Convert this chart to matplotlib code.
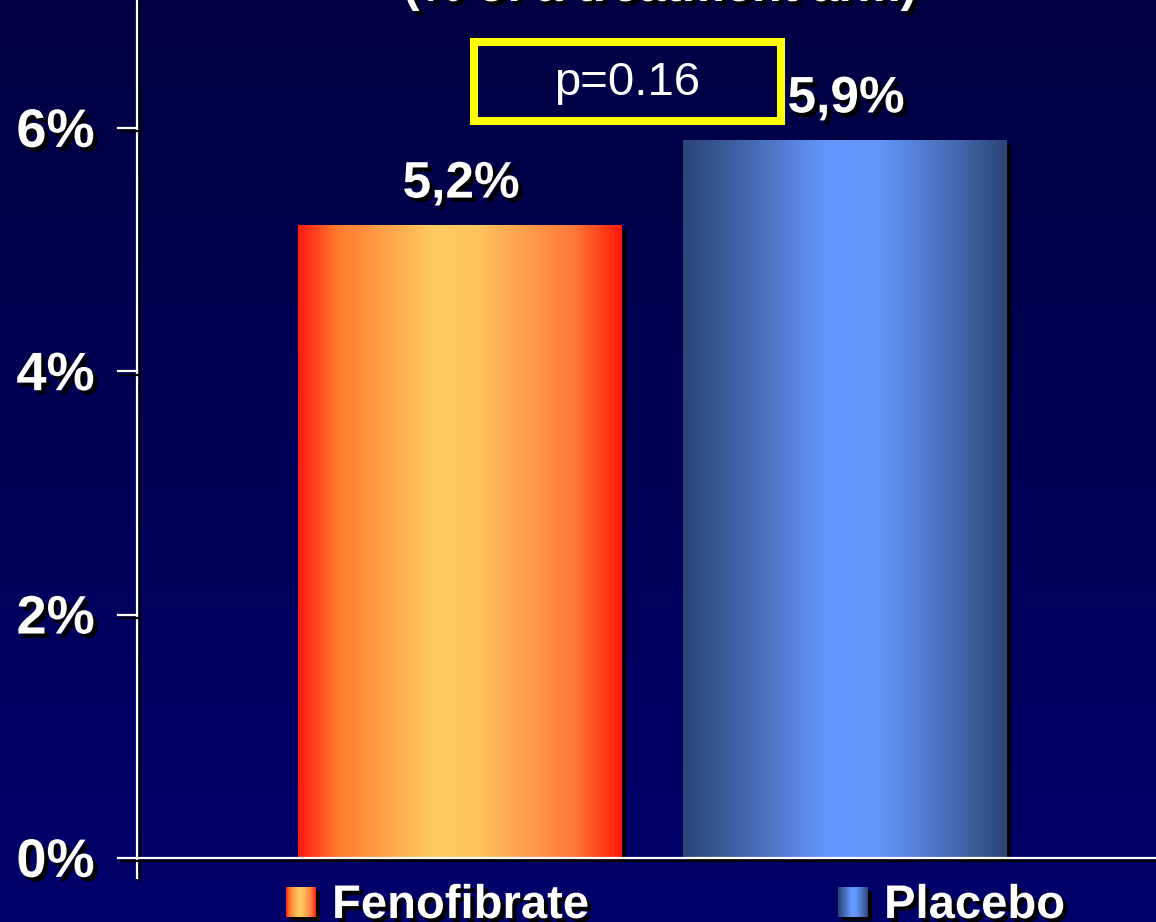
import numpy as np
import matplotlib
matplotlib.use("Agg")
import matplotlib.pyplot as plt
from matplotlib import patheffects as pe
from matplotlib.colors import LinearSegmentedColormap
from matplotlib.patches import Rectangle

plt.rcParams['font.family'] = ['Liberation Sans', 'DejaVu Sans']

# Data
categories = ["Fenofibrate", "Placebo"]
values = [5.2, 5.9]
value_labels = ["5,2%", "5,9%"]
ytick_values = [0, 2, 4, 6]
ytick_labels = ["0%", "2%", "4%", "6%"]
p_text = "p=0.16"
subtitle = "(% of a treatment arm)"

W, H = 1156, 922
DPI = 100
fig = plt.figure(figsize=(W / DPI, H / DPI), dpi=DPI)

# Navy background with a slight vertical gradient
bg = fig.add_axes([0, 0, 1, 1], zorder=-10)
bg_cmap = LinearSegmentedColormap.from_list("bg", ["#00006c", "#000042"])
bg.imshow(np.linspace(0, 1, 256).reshape(-1, 1), cmap=bg_cmap, aspect='auto',
          extent=(0, 1, 0, 1), origin='lower')
bg.set_axis_off()

# Bar gradients (horizontal): edges dark, bright near the middle
feno_cmap = LinearSegmentedColormap.from_list(
    "feno", [(0.0, "#ff1a10"), (0.12, "#ff7a30"), (0.42, "#ffca62"),
             (0.55, "#ffc45e"), (0.85, "#ff7a3a"), (1.0, "#ff1a08")])
plac_cmap = LinearSegmentedColormap.from_list(
    "plac", [(0.0, "#2c4474"), (0.2, "#4468b0"), (0.45, "#6699ff"),
             (0.6, "#6598fc"), (0.85, "#4468b0"), (1.0, "#2c4474")])
cmaps = [feno_cmap, plac_cmap]

ax_left = 137 / W
ax_bottom = (H - 878) / H
ax = fig.add_axes([ax_left, ax_bottom, 1 - ax_left, 1 - ax_bottom])
ax.patch.set_alpha(0)
px_per_unit = 243.33 / 2
ylim = (-20 / px_per_unit, 858 / px_per_unit)
xlim = (-0.838, 1.809)
for s in ax.spines.values():
    s.set_visible(False)
ax.set_xticks([])
ax.set_yticks([])

x = np.arange(len(categories))
width = 0.84
shadow = [pe.SimplePatchShadow(offset=(3.2, -3.2), shadow_rgbFace='black', alpha=1.0), pe.Normal()]
text_shadow = [pe.withSimplePatchShadow(offset=(3, -3), shadow_rgbFace='black', alpha=1.0)]
line_shadow = [pe.SimpleLineShadow(offset=(2.5, -2.5), shadow_color='black', alpha=1.0), pe.Normal()]

grad = np.linspace(0, 1, 256).reshape(1, -1)
bars = ax.bar(x, values, width=width, color='#000000', zorder=2)
for bar, cmap, lab in zip(bars, cmaps, value_labels):
    bar.set_path_effects(shadow)
    x0, w, h = bar.get_x(), bar.get_width(), bar.get_height()
    im = ax.imshow(grad, cmap=cmap, aspect='auto', extent=(x0, x0 + w, 0, h),
                   zorder=3, interpolation='bilinear')
    im.set_clip_path(bar)
    ax.annotate(lab, (x0 + w / 2, h), xytext=(1, 20), textcoords='offset points',
                ha='center', va='baseline', fontsize=37, fontweight='bold',
                color='white', path_effects=text_shadow, zorder=5)
ax.set_xlim(*xlim)
ax.set_ylim(*ylim)

# Axis lines and ticks
ytr = ax.get_yaxis_transform()
tick_len = 19 / (W - 137)
ax.plot([0, 0], [0, 1], transform=ax.transAxes, color='white', lw=1.6,
        clip_on=False, path_effects=line_shadow, zorder=4)
ax.plot([-tick_len, 1], [0, 0], transform=ytr, color='white', lw=1.6,
        clip_on=False, path_effects=line_shadow, zorder=4)
for v, lab in zip(ytick_values, ytick_labels):
    if v != 0:
        ax.plot([-tick_len, 0], [v, v], transform=ytr, color='white', lw=1.6,
                clip_on=False, path_effects=line_shadow, zorder=4)
    ax.annotate(lab, (0, v), xycoords=ytr, xytext=(-30.5, -3.5),
                textcoords='offset points', ha='right', va='center',
                fontsize=39, fontweight='bold', color='white',
                path_effects=text_shadow, annotation_clip=False)

# Subtitle running off the top edge
fig.text(660 / W, 1 - 1 / H, subtitle, ha='center', va='baseline', fontsize=35,
         fontweight='bold', color='white', path_effects=text_shadow)

# p-value box
fig.patches.append(Rectangle((474 / W, 1 - 121 / H), 307 / W, 79 / H,
                             transform=fig.transFigure, fill=False,
                             edgecolor='#ffff00', lw=5.8, zorder=6))
fig.text(627 / W, 1 - 83 / H, p_text, ha='center', va='center', fontsize=34,
         color='white', zorder=7)

# Legend with gradient swatches
legend_swatch_x = [286, 838]
legend_text_x = [332, 884]
for sx, tx, cmap, name in zip(legend_swatch_x, legend_text_x, cmaps, categories):
    sh = fig.add_axes([(sx + 4) / W, (H - 921) / H, 30 / W, 30 / H], zorder=4)
    sh.set_facecolor('black')
    sh.set_xticks([]); sh.set_yticks([])
    for s in sh.spines.values():
        s.set_visible(False)
    sw = fig.add_axes([sx / W, (H - 917) / H, 30 / W, 30 / H], zorder=5)
    sw.imshow(grad, cmap=cmap, aspect='auto', interpolation='bilinear')
    sw.set_axis_off()
    fig.text(tx / W, (H - 918) / H, name, ha='left', va='baseline', fontsize=34,
             fontweight='bold', color='white', path_effects=text_shadow)

fig.savefig("out.png", dpi=DPI, facecolor=fig.get_facecolor())
